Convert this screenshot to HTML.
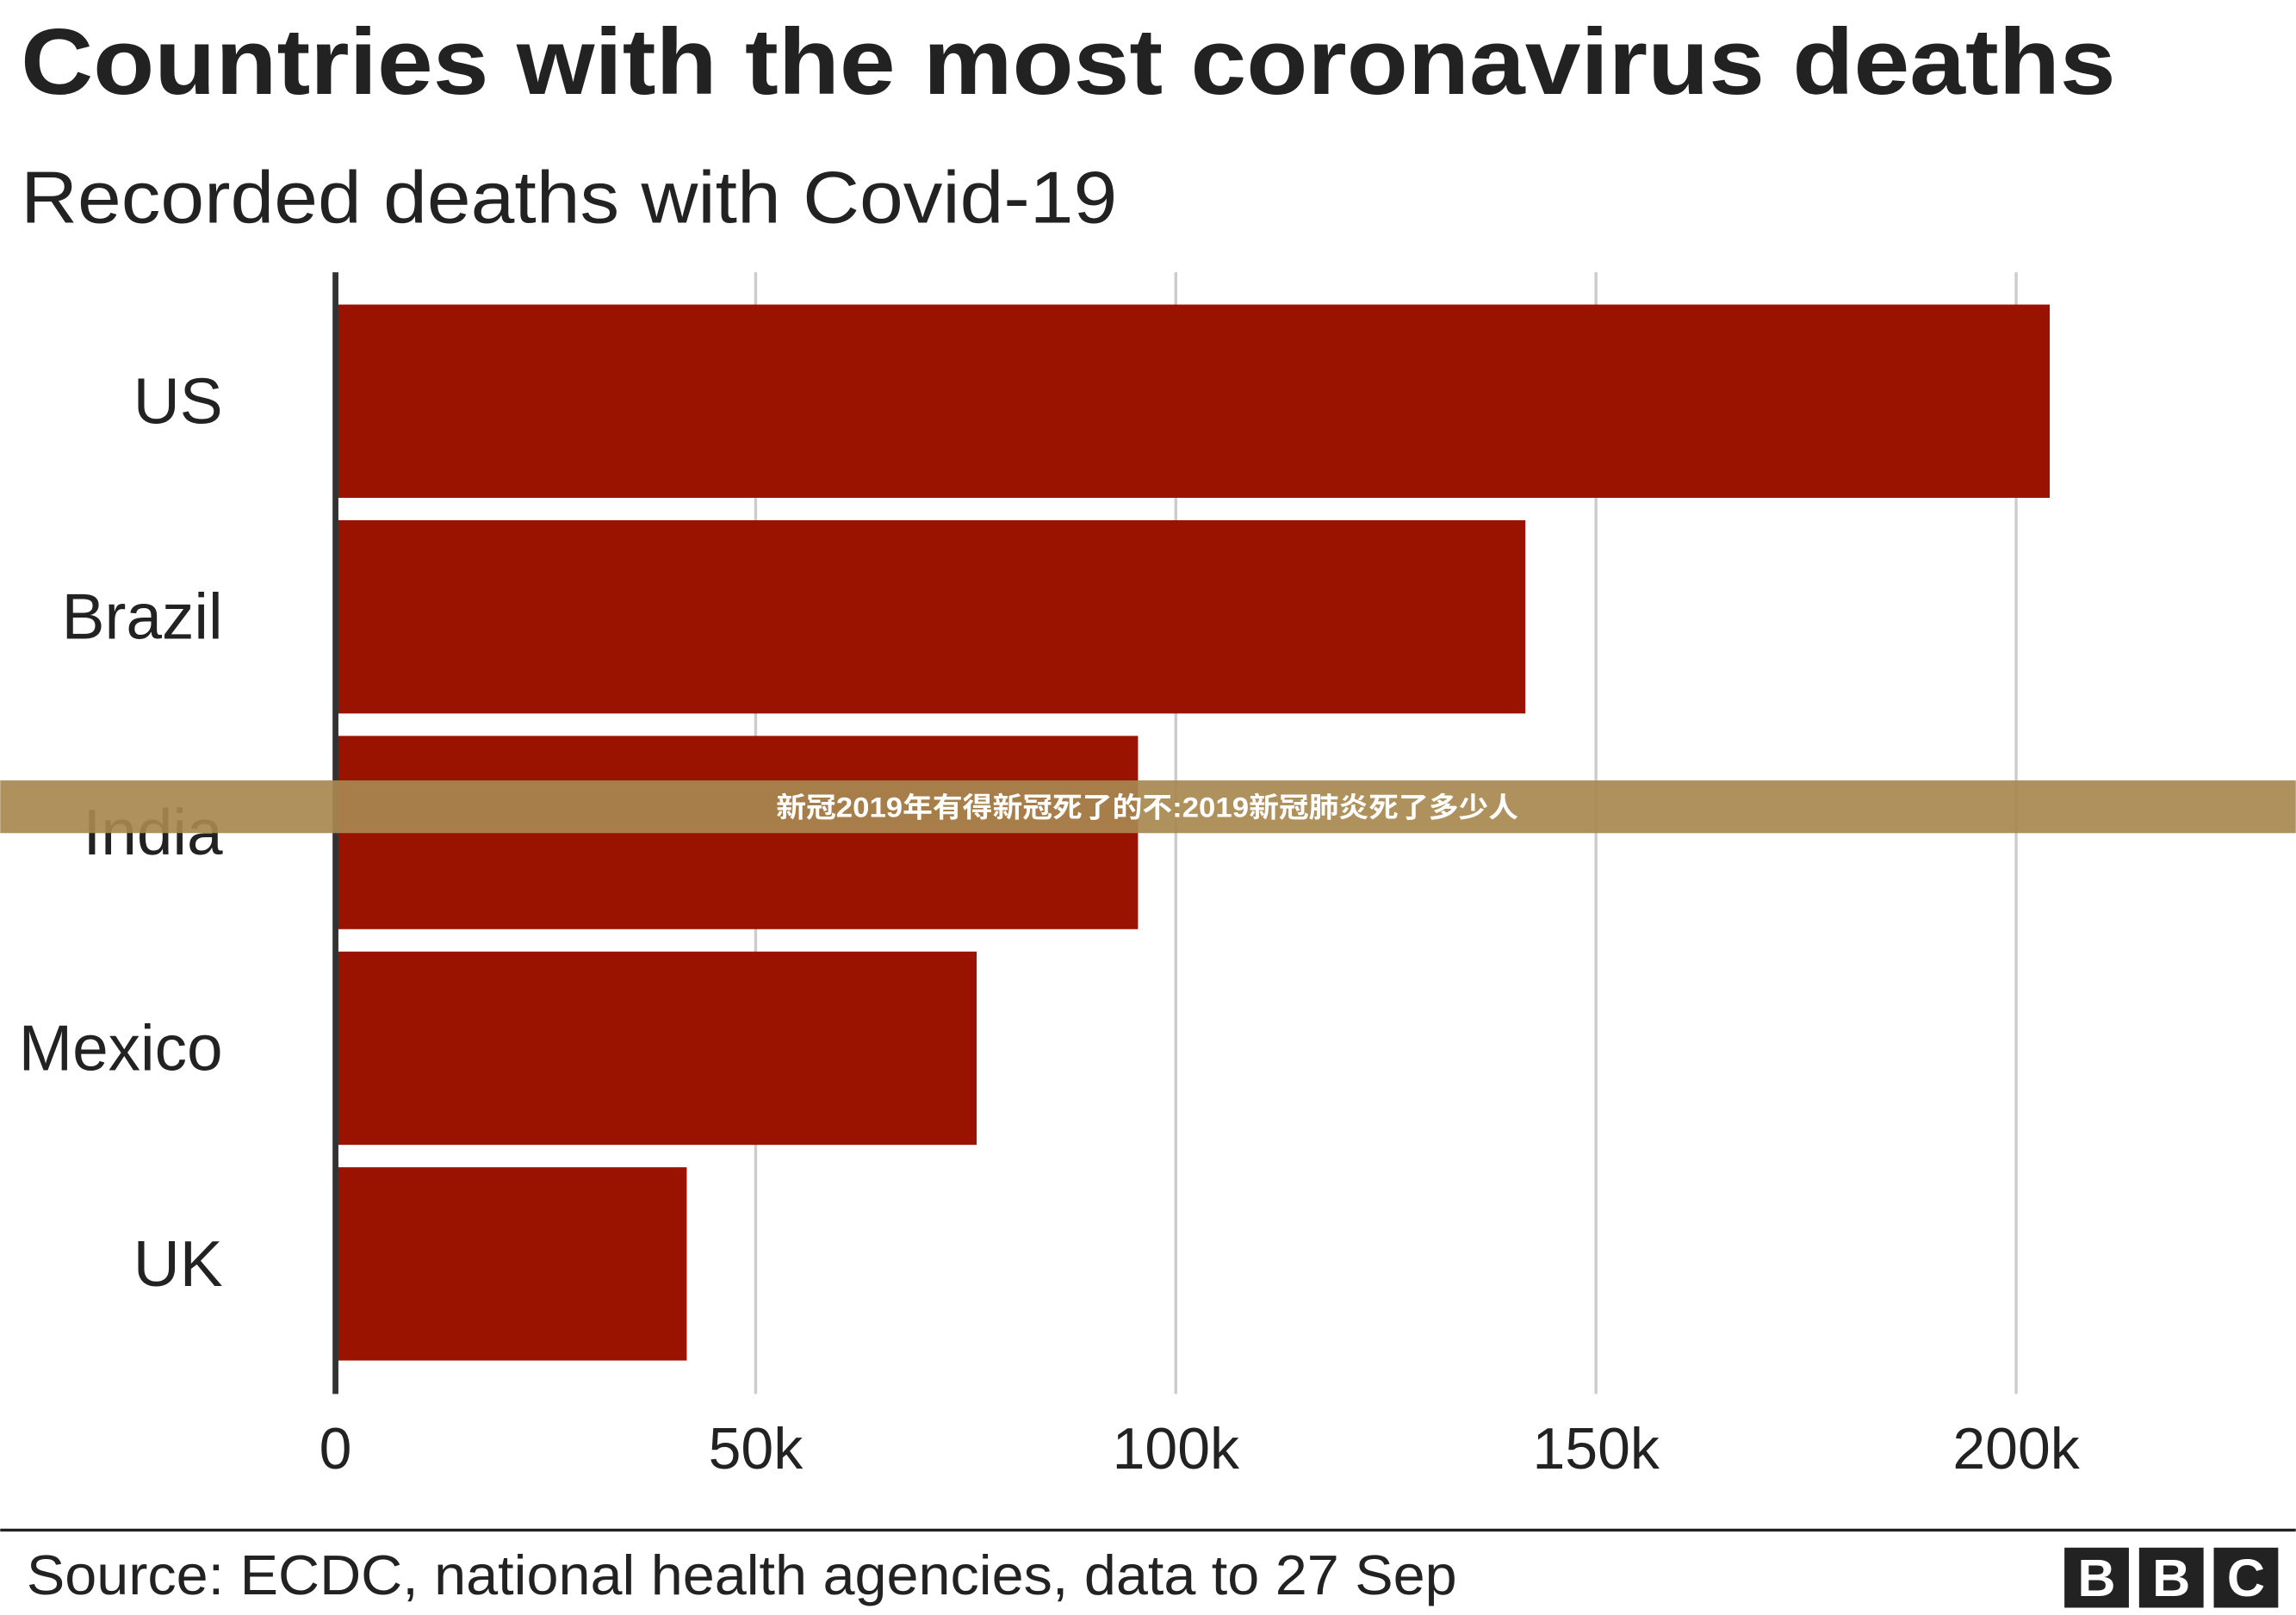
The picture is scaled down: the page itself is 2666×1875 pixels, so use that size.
<!DOCTYPE html>
<html><head><meta charset="utf-8"><style>
html,body{margin:0;padding:0;background:#fff}
svg{display:block}
text{font-family:"Liberation Sans","Noto Sans CJK SC",sans-serif}
</style></head><body>
<svg id="chart" width="2666" height="1875" viewBox="0 0 1568 1103" xmlns="http://www.w3.org/2000/svg">
<rect width="1568" height="1103" fill="#fff"/>
<text x="14" y="64" font-size="64" font-weight="bold" fill="#222" textLength="1431" lengthAdjust="spacingAndGlyphs">Countries with the most coronavirus deaths</text>
<text x="14" y="152" font-size="50" fill="#222" textLength="749" lengthAdjust="spacingAndGlyphs">Recorded deaths with Covid-19</text>
<g id="grid"></g>
<g id="bars"></g>
<g id="labels"></g>
<line x1="229" y1="186" x2="229" y2="952" stroke="#333" stroke-width="4"/>
<rect x="0" y="533" width="1568" height="36" fill="#a8884f" opacity="0.92"/>
<text x="530" y="558" font-size="19" font-weight="bold" fill="#fff" textLength="507" lengthAdjust="spacingAndGlyphs">新冠2019年有得新冠死了的不:2019新冠肺炎死了多少人</text>
<line x1="0" y1="1045" x2="1568" y2="1045" stroke="#222" stroke-width="2"/>
<text x="18" y="1089" font-size="38" fill="#222" textLength="977" lengthAdjust="spacingAndGlyphs">Source: ECDC, national health agencies, data to 27 Sep</text>
<g>
<rect x="1410" y="1057" width="44" height="41" fill="#222"/><text x="1432" y="1090" font-size="36" font-weight="bold" fill="#fff" text-anchor="middle">B</text>
<rect x="1461" y="1057" width="44" height="41" fill="#222"/><text x="1483" y="1090" font-size="36" font-weight="bold" fill="#fff" text-anchor="middle">B</text>
<rect x="1512" y="1057" width="44" height="41" fill="#222"/><text x="1534" y="1090" font-size="36" font-weight="bold" fill="#fff" text-anchor="middle">C</text>
</g>
</svg>
<script>
const categories = ["US","Brazil","India","Mexico","UK"];
const deaths = [204000, 141600, 95500, 76300, 41800];
const tickValues = [0, 50000, 100000, 150000, 200000];
const tickLabels = ["0","50k","100k","150k","200k"];

const NS="http://www.w3.org/2000/svg";
const x0=229, pxPerUnit=287/50000;
const xs=v=>x0+v*pxPerUnit;
const bandTop=208, band=147.3, barH=132;
const grid=document.getElementById('grid'), bars=document.getElementById('bars'), labels=document.getElementById('labels');
function mk(tag,attrs,parent){const e=document.createElementNS(NS,tag);for(const k in attrs)e.setAttribute(k,attrs[k]);parent.appendChild(e);return e;}
tickValues.forEach((v,i)=>{
  if(v>0){
    const g=mk('line',{x1:xs(v),x2:xs(v),y1:186,y2:952,stroke:'#cccccc','stroke-width':2},grid);
    
    
  }
  const t=mk('text',{x:xs(v),y:1003,'font-size':40,fill:'#222','text-anchor':'middle'},labels);
  t.textContent=tickLabels[i];
  
  
});
categories.forEach((c,i)=>{
  const y=bandTop+i*band;
  const r=mk('rect',{x:x0,y:y,width:xs(deaths[i])-x0,height:barH,fill:'#991300'},bars);
  
  
  const t=mk('text',{x:152,y:y+barH/2+15,'font-size':44,fill:'#222','text-anchor':'end'},labels);
  t.textContent=c;
  
  
});
</script>
</body></html>
